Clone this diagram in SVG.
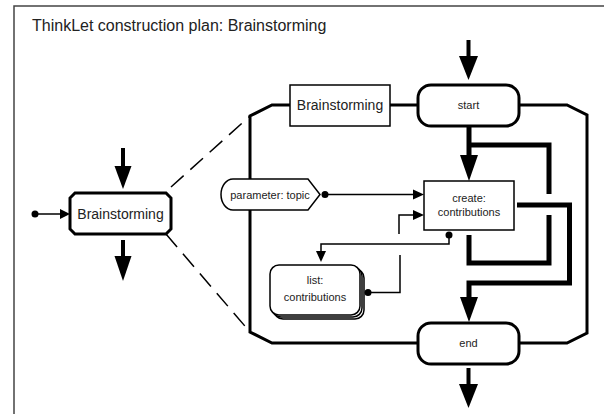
<svg xmlns="http://www.w3.org/2000/svg" width="604" height="414" viewBox="0 0 604 414">
<style>
text{font-family:"Liberation Sans",Arial,sans-serif;fill:#222;text-anchor:middle}
.t14{font-size:14px}
.t11{font-size:11px}
.thin{fill:none;stroke:#000;stroke-width:1.5}
.thick{fill:none;stroke:#000;stroke-width:5;stroke-linejoin:miter}
.head{fill:#000;stroke:none}
.node{fill:#fff;stroke:#000}
.dot{fill:#000}
</style>
<rect x="14" y="6" width="620" height="440" fill="#fff" stroke="#444" stroke-width="1.5"/>
<text x="32" y="31" style="font-size:16px;text-anchor:start">ThinkLet construction plan: Brainstorming</text>

<g id="frame">
<polygon points="272,105 567,105 587,115 587,333 567,343 272,343 250,332 250,116" fill="none" stroke="#000" stroke-width="3"/>
</g>

<g id="connectors">
<line x1="171" y1="187" x2="250" y2="116" stroke="#000" stroke-width="1.5" stroke-dasharray="17,9"/>
<line x1="166" y1="234" x2="250" y2="332" stroke="#000" stroke-width="1.5" stroke-dasharray="17,9"/>
<circle class="dot" cx="35" cy="214" r="3.5"/>
<line class="thin" x1="35" y1="214" x2="62" y2="214"/>
<polygon class="head" points="60,209 70,214 60,219"/>
<rect x="121" y="148" width="4" height="20" fill="#000"/>
<polygon class="head" points="114.5,166 131.5,166 123,189"/>
<rect x="121" y="240" width="4" height="18" fill="#000"/>
<polygon class="head" points="114.5,256 131.5,256 123,281"/>
<rect x="466.5" y="40" width="4" height="18" fill="#000"/>
<polygon class="head" points="459,56 478,56 468.5,80"/>
<rect x="466.5" y="368" width="4" height="18" fill="#000"/>
<polygon class="head" points="459,384 478,384 468.5,408"/>
<path class="thick" d="M469,126 V158"/>
<polygon class="head" points="460,155 478,155 469,181"/>
<path class="thick" d="M469,145 H549 V194"/>
<path class="thick" d="M517,205 H569.5 V283 H469 V300"/>
<polygon class="head" points="460,297 478,297 469,322"/>
<path class="thick" d="M469,235 V263 H549 V215"/>
<circle class="dot" cx="325" cy="194.5" r="3.5"/>
<line class="thin" x1="325" y1="194.5" x2="414" y2="194.5"/>
<polygon class="head" points="413,189.5 424,194.5 413,199.5"/>
<path class="thin" d="M399,234 V215 H414"/>
<polygon class="head" points="413,210 424,215 413,220"/>
<circle class="dot" cx="449" cy="235" r="3.5"/>
<path class="thin" d="M449,235 V244 H321 V253"/>
<polygon class="head" points="316,251 326,251 321,262"/>
<circle class="dot" cx="368" cy="292.5" r="3.5"/>
<path class="thin" d="M368,292.5 H400 V255"/>
</g>

<g id="node-brainstorming-left">
<polygon class="node" stroke-width="3" points="75,193 166,193 171,198 171,229 166,234 75,234 70,229 70,198"/>
<text class="t14" x="120.5" y="218.5">Brainstorming</text>
</g>

<g id="node-brainstorming-label">
<rect class="node" stroke-width="1.5" x="290" y="85" width="100" height="41"/>
<text class="t14" x="340" y="110">Brainstorming</text>
</g>

<g id="node-start">
<rect class="node" stroke-width="3" x="418" y="85" width="101" height="41" rx="13"/>
<text class="t11" x="468.5" y="109">start</text>
</g>

<g id="node-end">
<rect class="node" stroke-width="3" x="418" y="323" width="101" height="41" rx="13"/>
<text class="t11" x="468.5" y="347">end</text>
</g>

<g id="node-parameter">
<path class="node" stroke-width="1.5" d="M233,179 H308 L320,194.5 L308,210 H233 A12,15.5 0 0 1 233,179 Z"/>
<text class="t11" x="270" y="198.5">parameter: topic</text>
</g>

<g id="node-create">
<rect class="node" stroke-width="1.5" x="424" y="181" width="90" height="49"/>
<text class="t11" x="469" y="202">create:</text>
<text class="t11" x="469" y="216">contributions</text>
</g>

<g id="node-list">
<rect class="node" stroke-width="1.5" x="274" y="269" width="90" height="50" rx="9"/>
<rect class="node" stroke-width="1.5" x="272" y="267" width="90" height="50" rx="9"/>
<rect class="node" stroke-width="1.5" x="270" y="265" width="90" height="50" rx="9"/>
<text class="t11" x="315" y="284">list:</text>
<text class="t11" x="315" y="301">contributions</text>
</g>
</svg>
